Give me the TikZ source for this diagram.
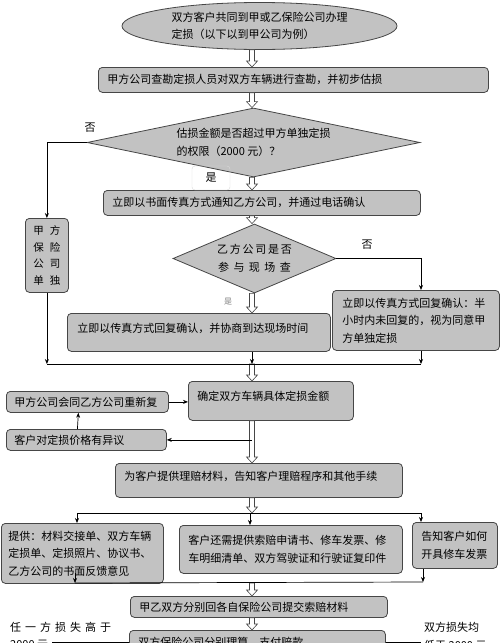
\documentclass[tikz,border=0pt]{standalone}
\usepackage{fontspec}
\newfontfamily\cjk{Noto Sans CJK SC}
\usetikzlibrary{shapes.geometric,calc,arrows.meta}
\definecolor{boxfill}{RGB}{194,194,194}
\definecolor{boxline}{RGB}{70,70,70}
\newcommand\harrow[2]{\draw[hollow] let \p1=(#1), \p2=(#2) in (\x2-2.5pt,\y1) -- (\x2-2.5pt,\y2+6pt) -- (\x2-5.5pt,\y2+6pt) -- (\x2,\y2) -- (\x2+5.5pt,\y2+6pt) -- (\x2+2.5pt,\y2+6pt) -- (\x2+2.5pt,\y1) -- cycle;}
\begin{document}
\begin{tikzpicture}[x=1pt,y=-1pt,
 every node/.style={font=\cjk\fontsize{11}{17.5}\selectfont},
 box/.style={draw=boxline, fill=boxfill, rounded corners=4pt, line width=0.8pt, inner xsep=9pt, inner ysep=0pt, align=left, anchor=north west},
 dia/.style={diamond, draw=boxline, fill=boxfill, line width=0.8pt, inner sep=0pt, align=left},
 hollow/.style={draw=boxline, fill=white, line width=0.6pt},
 arr/.style={draw=black, line width=0.7pt, -{Stealth[length=5pt,width=4pt]}},
 ln/.style={draw=black, line width=0.7pt},
 lab/.style={inner sep=0pt}]
\useasboundingbox (0,0) rectangle (500,643);
\fill[white] (0,0) rectangle (500,643);

% nodes
\node[ellipse, draw=boxline, fill=boxfill, line width=0.8pt, minimum width=275pt, minimum height=47pt, inner sep=0pt, align=left] (e) at (259.5,26) {双方客户共同到甲或乙保险公司办理\\定损（以下以到甲公司为例）};
\node[box, text width=372pt, minimum height=25pt] (b2) at (98,67) {甲方公司查勘定损人员对双方车辆进行查勘，并初步估损};
\node[dia, aspect=4.83, minimum width=333pt, minimum height=69pt] (d1) at (253.5,142.5) {估损金额是否超过甲方单独定损\\的权限（2000 元）？};
\node[box, text width=299pt, minimum height=25pt] (b3) at (103,190) {立即以书面传真方式通知乙方公司，并通过电话确认};
\node[dia, aspect=2.36, minimum width=163pt, minimum height=69pt, align=center] (d2) at (254.5,258.5) {乙\hspace{1.8pt}方\hspace{1.8pt}公\hspace{1.8pt}司\hspace{1.8pt}是\hspace{1.8pt}否\\参\hspace{4.5pt}与\hspace{4.5pt}现\hspace{4.5pt}场\hspace{4.5pt}查};
\node[box, text width=27pt, inner xsep=8pt, minimum height=74pt, align=center, font=\cjk\fontsize{10.5}{16.7}\selectfont] (jf) at (25,218) {甲\hspace{6pt}方\\保\hspace{6pt}险\\公\hspace{6pt}司\\单\hspace{6pt}独};
\node[box, text width=243pt, inner xsep=10pt, minimum height=38pt] (b4) at (67,313) {\raisebox{10pt}{立即以传真方式回复确认，并协商到达现场时间}};
\node[box, text width=147pt, inner xsep=10pt, minimum height=60pt] (b5) at (332,290) {立即以传真方式回复确认：半\\小时内未回复的，视为同意甲\\方单独定损};
\node[box, text width=147pt, minimum height=39pt] (b6) at (188,381) {\raisebox{10pt}{确定双方车辆具体定损金额}};
\node[box, text width=146pt, inner xsep=8pt, minimum height=21pt] (b7) at (6,391) {甲方公司会同乙方公司重新复};
\node[box, text width=144pt, inner xsep=8pt, minimum height=21pt] (b8) at (6,429) {客户对定损价格有异议};
\node[box, text width=269pt, minimum height=34pt] (b9) at (115,463) {\raisebox{10pt}{为客户提供理赔材料，告知客户理赔程序和其他手续}};
\node[box, text width=148pt, inner xsep=7pt, minimum height=60pt] (b10) at (1,523) {提供：材料交接单、双方车辆\\定损单、定损照片、协议书、\\乙方公司的书面反馈意见};
\node[box, text width=205pt, minimum height=48pt] (b11) at (179,525) {客户还需提供索赔申请书、修车发票、修\\车明细清单、双方驾驶证和行驶证复印件};
\node[box, text width=67pt, minimum height=46pt] (b12) at (412,522) {告知客户如何\\开具修车发票};
\node[box, text width=239pt, minimum height=21pt] (b13) at (130,596) {甲乙双方分别回各自保险公司提交索赔材料};
\node[box, text width=238pt, minimum height=24pt] (b14) at (129,630) {双方保险公司分别理算，支付赔款};

% labels
\node[lab] (no1) at (90,128) {否};
\node[lab] (no2) at (367,245) {否};
\node[draw=gray!30, rounded corners=3pt, minimum width=38pt, minimum height=24pt, inner sep=0pt] (yes1) at (211,178) {是};
\node[lab, font=\cjk\fontsize{8}{10}\selectfont, text=gray] (yes2) at (228,302) {是};
\node[lab, anchor=west] (lt1) at (10,627) {任\hspace{4pt}一\hspace{4pt}方\hspace{4pt}损\hspace{4pt}失\hspace{4pt}高\hspace{4pt}于};
\node[lab, anchor=west] (lt2) at (10,645) {2000 元};
\node[lab, anchor=west] (rt1) at (424,627) {双方损失均};
\node[lab, anchor=west] (rt2) at (424,645) {低于 2000 元};

% coordinates
\coordinate (col) at (252,0);
\coordinate (m1) at (252,364);
\coordinate (m1R) at (421,364);
\coordinate (m2) at (250,513);
\coordinate (m2L) at (77,513);
\coordinate (m2R) at (421,513);
\coordinate (m3) at (252,583);
\coordinate (m3L) at (75,583);
\coordinate (m3R) at (423,582);
\coordinate (bl) at (52,660);
\coordinate (br) at (420,660);

% hollow arrows
\harrow{e.south}{b2.north -| col}
\harrow{b2.south}{d1.north -| col}
\harrow{d1.south}{b3.north -| col}
\harrow{b3.south}{d2.north -| col}
\harrow{d2.south}{b4.north -| col}
\harrow{m1}{b6.north -| col}
\harrow{b6.south}{b9.north -| col}
\harrow{b9.south}{m2 -| col}
\harrow{m3}{b13.north -| col}
\harrow{b13.south}{b14.north -| col}

% thin connectors
\draw[arr] (d1.west) -| (jf.north);
\draw[arr] (jf.south) -- (jf.south |- m1);
\draw[arr] (d2.east) -| (m1R |- b5.north);
\draw[arr] (b4.south -| m1) -- (m1);
\draw[arr] (m1R |- b5.south) -- (m1R);
\draw[ln] (jf.south |- m1) -- (m1R);
\draw[arr] (b7.east) -- (b7.east -| b6.west);
\draw[arr] ([xshift=-9pt]b8.north) -- ([xshift=-9pt]b7.south);
\draw[arr] (b8.east -| col) -- (b8.east);
\draw[ln] (m2L) -- (m2R);
\draw[arr] (m2L) -- (m2L |- b10.north);
\draw[arr] (m2) -- (m2 |- b11.north);
\draw[arr] (m2R) -- (m2R |- b12.north);
\draw[arr] ([yshift=10pt]m3L) -- (m3L);
\draw[arr] (b12.south -| m3R) -- (m3R);
\draw[ln] (m3L) -- (m3R);
\draw[ln] (b14.west) -| (bl);
\draw[ln] (b14.east) -| (br);
\end{tikzpicture}
\end{document}
